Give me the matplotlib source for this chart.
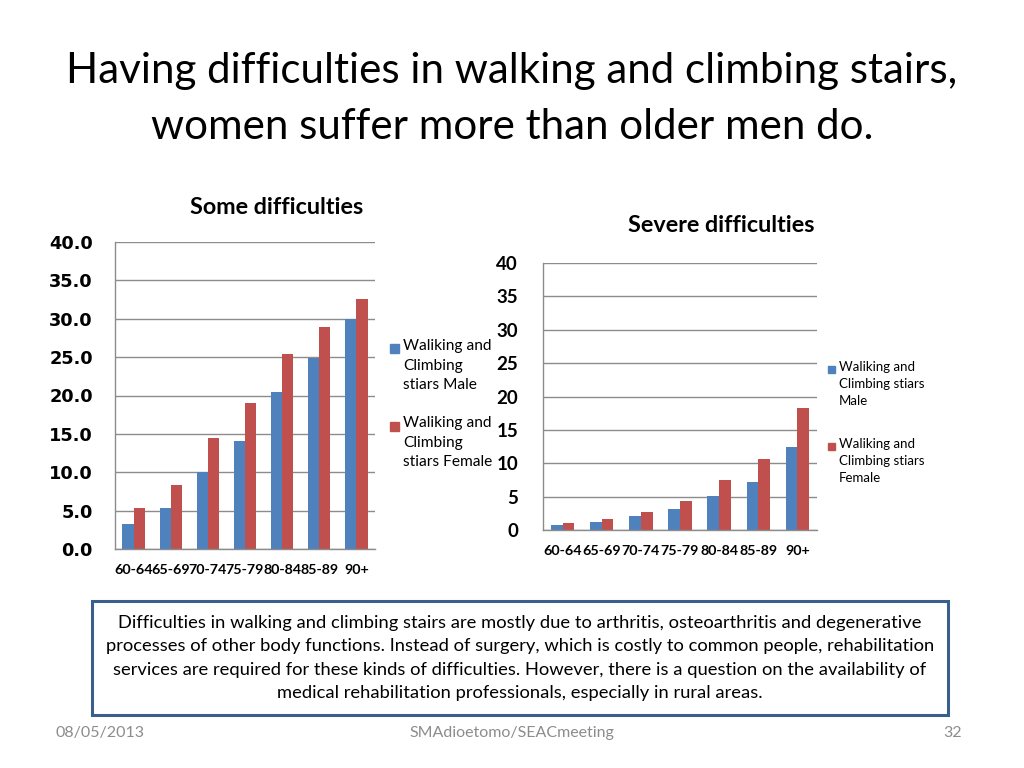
import matplotlib.pyplot as plt
import numpy as np

plt.rcParams['font.family'] = ['Lato', 'DejaVu Sans']

age_groups = ['60-64', '65-69', '70-74', '75-79', '80-84', '85-89', '90+']
some_male = [3.3, 5.4, 10.0, 14.1, 20.4, 24.9, 30.0]
some_female = [5.3, 8.4, 14.5, 19.0, 25.4, 28.9, 32.6]
severe_male = [0.8, 1.2, 2.1, 3.2, 5.1, 7.2, 12.4]
severe_female = [1.0, 1.6, 2.7, 4.3, 7.5, 10.7, 18.3]
series_names = ['Waliking and\nClimbing\nstiars Male', 'Waliking and\nClimbing\nstiars Female']
series_names_r = ['Waliking and\nClimbing stiars\nMale', 'Waliking and\nClimbing stiars\nFemale']

blue = '#4F81BD'
red = '#C0504D'
grid = '#8C8C8C'
W, H = 1024, 768

fig = plt.figure(figsize=(10.24, 7.68), dpi=100)
fig.patch.set_facecolor('white')


def fx(px):
    return px / W


def fy(py):
    return 1 - py / H


fig.text(0.5, fy(99), 'Having difficulties in walking and climbing stairs,\nwomen suffer more than older men do.',
         ha='center', va='center', fontsize=30.3, linespacing=1.55, color='black')


def style_axes(ax):
    for s in ['top', 'right']:
        ax.spines[s].set_visible(False)
    for s in ['left', 'bottom']:
        ax.spines[s].set_color(grid)
        ax.spines[s].set_linewidth(1)
    ax.yaxis.grid(True, color=grid, linewidth=1)
    ax.set_axisbelow(True)
    ax.tick_params(axis='both', length=0)


def manual_legend(x_sq, sq, x_txt, ys, labels, colors, size, spacing):
    # ys: centre of the first text line of each entry (pixels from top)
    half = size / 72 * 100 * 0.62
    for y, lab, c in zip(ys, labels, colors):
        fig.add_artist(plt.Rectangle((fx(x_sq), fy(y + sq / 2)), fx(sq), sq / H,
                                     transform=fig.transFigure, color=c))
        fig.text(fx(x_txt), fy(y - half), lab, ha='left', va='top', fontsize=size,
                 linespacing=spacing, transform=fig.transFigure)


x = np.arange(len(age_groups))

# left chart
ax1 = fig.add_axes([fx(115), fy(549), fx(375 - 115), (549 - 242) / H])
w = 0.3
ax1.bar(x - w / 2, some_male, w, color=blue)
ax1.bar(x + w / 2, some_female, w, color=red)
ax1.set_xlim(-0.5, 6.5)
ax1.set_ylim(0, 40)
ax1.set_yticks(np.arange(0, 41, 5))
ax1.set_yticklabels([f'{v:.1f}' for v in np.arange(0, 41, 5)], family='DejaVu Sans',
                    fontweight='bold', fontsize=12.8)
ax1.set_xticks(x)
ax1.set_xticklabels(age_groups, fontweight='bold', fontsize=10.3)
ax1.tick_params(axis='x', pad=11)
ax1.tick_params(axis='y', pad=16)
style_axes(ax1)
fig.text(fx(277), fy(207), 'Some difficulties', ha='center', va='center', fontweight='bold', fontsize=16.8)
manual_legend(390, 9, 403, [349, 426],
              [series_names[0], series_names[1]], [blue, red], 11.2, 1.47)

# right chart
ax2 = fig.add_axes([fx(543), fy(530), fx(817 - 543), (530 - 263) / H])
w = 0.3
ax2.bar(x - w / 2, severe_male, w, color=blue)
ax2.bar(x + w / 2, severe_female, w, color=red)
ax2.set_xlim(-0.5, 6.5)
ax2.set_ylim(0, 40)
ax2.set_yticks(np.arange(0, 41, 5))
ax2.set_yticklabels([str(v) for v in range(0, 41, 5)], fontweight='bold', fontsize=13.5)
ax2.set_xticks(x)
ax2.set_xticklabels(age_groups, fontweight='bold', fontsize=10.3)
ax2.tick_params(axis='x', pad=11)
ax2.tick_params(axis='y', pad=18)
style_axes(ax2)
fig.text(fx(721), fy(226), 'Severe difficulties', ha='center', va='center', fontweight='bold', fontsize=16.8)
manual_legend(828, 7, 839, [369, 446],
              [series_names_r[0], series_names_r[1]], [blue, red], 9.5, 1.53)

# text box
note = ('Difficulties in walking and climbing stairs are mostly due to arthritis, osteoarthritis and degenerative\n'
        'processes of other body functions. Instead of surgery, which is costly to common people, rehabilitation\n'
        'services are required for these kinds of difficulties. However, there is a question on the availability of\n'
        'medical rehabilitation professionals, especially in rural areas.')
box = plt.Rectangle((fx(92), fy(715)), fx(948 - 92), (715 - 601) / H,
                    transform=fig.transFigure, fill=False, edgecolor='#3A5F8C', linewidth=2.2)
fig.add_artist(box)
fig.text(fx(520), fy(658), note, ha='center', va='center', fontsize=13.2,
         linespacing=1.58, color='black')

# footer
fig.text(fx(55), fy(733), '08/05/2013', ha='left', va='center', fontsize=11.5, color='#8C8C8C')
fig.text(fx(512), fy(733), 'SMAdioetomo/SEACmeeting', ha='center', va='center', fontsize=11.5, color='#8C8C8C')
fig.text(fx(962), fy(733), '32', ha='right', va='center', fontsize=11.5, color='#8C8C8C')

fig.savefig('out.png', dpi=100)
